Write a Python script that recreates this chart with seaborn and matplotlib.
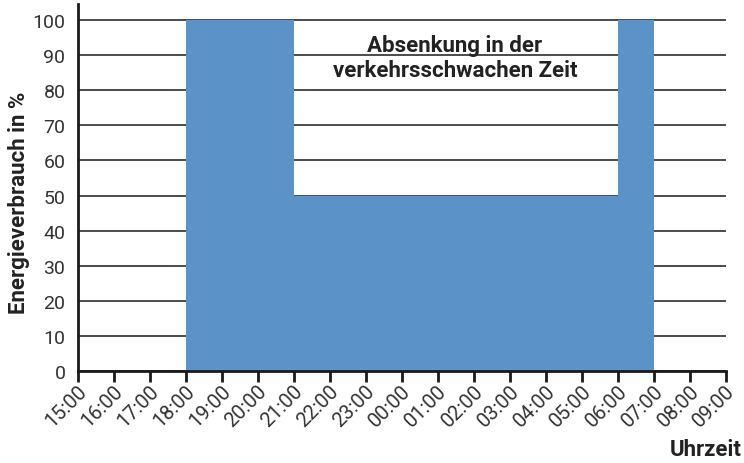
import matplotlib
matplotlib.use("Agg")
import matplotlib.pyplot as plt
import matplotlib.transforms as mtransforms
import seaborn as sns
import pandas as pd
import numpy as np

tick_labels = ["15:00", "16:00", "17:00", "18:00", "19:00", "20:00", "21:00", "22:00",
               "23:00", "00:00", "01:00", "02:00", "03:00", "04:00", "05:00", "06:00",
               "07:00", "08:00", "09:00"]
hour_bins = [f"{tick_labels[i]}-{tick_labels[i+1]}" for i in range(len(tick_labels) - 1)]
energy = [0, 0, 0, 100, 100, 100, 50, 50, 50, 50, 50, 50, 50, 50, 50, 100, 0, 0]
y_ticks = [0, 10, 20, 30, 40, 50, 60, 70, 80, 90, 100]

sns.set_theme(style="white")
plt.rcParams["font.family"] = ["Roboto", "DejaVu Sans"]

df = pd.DataFrame({"bin": hour_bins, "energy": energy})

fig = plt.figure(figsize=(7.44, 4.64), dpi=100)
ax = fig.add_axes([78/744, 1 - 372/464, (726-78)/744, (372-5)/464])

for y in y_ticks:
    ax.axhline(y, color="#1a1a1a", lw=1.1, zorder=0)

sns.barplot(data=df, x="bin", y="energy", color="#5B93C9", saturation=1,
            width=1.0, ax=ax, zorder=2, edgecolor="none", linewidth=0)

ax.set_xlim(-0.5, len(hour_bins) - 0.5)
ax.set_ylim(0, 104.6)
ax.set_yticks(y_ticks)
ax.set_yticklabels([str(v) for v in y_ticks], fontsize=14, color="#333333")
ax.set_xticks(np.arange(len(tick_labels)) - 0.5)
ax.tick_params(axis="x", direction="out", length=8, width=2, color="#1a1a1a", pad=4,
               bottom=True)
ax.tick_params(axis="y", length=0, pad=9)
ax.set_xticklabels(tick_labels, rotation=45, ha="right", va="center",
                   rotation_mode="anchor", fontsize=14.5, color="#333333")
shift = mtransforms.ScaledTranslation(6/100, 0, fig.dpi_scale_trans)
for lab in ax.get_xticklabels():
    lab.set_transform(lab.get_transform() + shift)

for s in ["top", "right"]:
    ax.spines[s].set_visible(False)
for s in ["left", "bottom"]:
    ax.spines[s].set_color("#1a1a1a")
    ax.spines[s].set_linewidth(2)
    ax.spines[s].set_zorder(5)

ax.set_xlabel("")
ax.set_ylabel("")
fig.text(742/744, 1 - 450/464, "Uhrzeit", ha="right", va="center",
         fontsize=16, fontweight="bold", color="#222222")
fig.text(19/744, 1 - 203/464, "Energieverbrauch in %", ha="center", va="center",
         rotation=90, fontsize=16, fontweight="bold", color="#222222")

ax.text(9.97, 89.3, "Absenkung in der\nverkehrsschwachen Zeit", ha="center", va="center",
        fontsize=16, fontweight="bold", color="#222222", linespacing=1.2, zorder=6)

fig.savefig("out.png", dpi=100)
